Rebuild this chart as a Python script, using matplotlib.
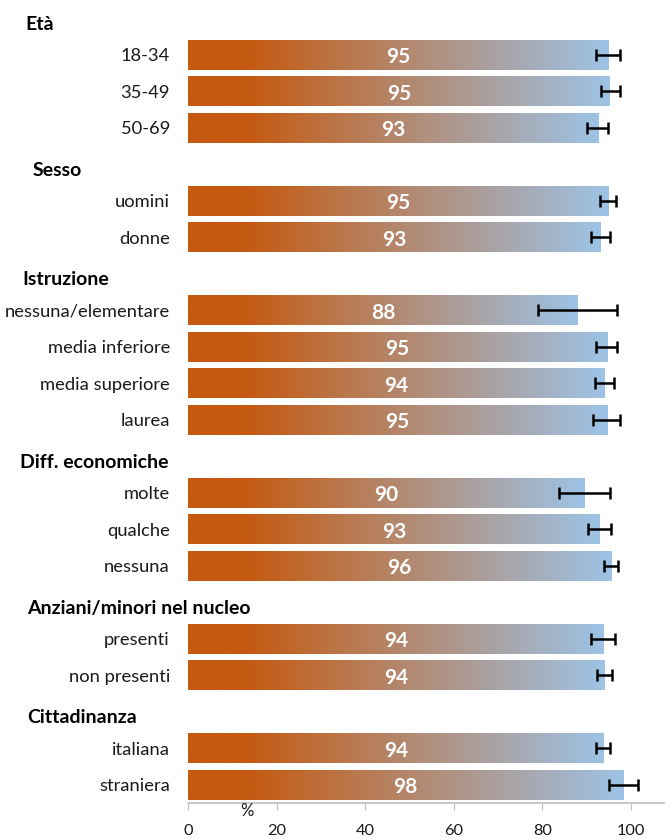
import numpy as np
import matplotlib
matplotlib.use('Agg')
import matplotlib.pyplot as plt
from matplotlib.colors import LinearSegmentedColormap
from matplotlib.transforms import blended_transform_factory

plt.rcParams['font.family'] = ['Lato', 'DejaVu Sans']

# groups and their categories
groups = ['Età', 'Sesso', 'Istruzione', 'Diff. economiche',
          'Anziani/minori nel nucleo', 'Cittadinanza']
categories = [
    ['18-34', '35-49', '50-69'],
    ['uomini', 'donne'],
    ['nessuna/elementare', 'media inferiore', 'media superiore', 'laurea'],
    ['molte', 'qualche', 'nessuna'],
    ['presenti', 'non presenti'],
    ['italiana', 'straniera'],
]
values = [
    [95.0, 95.2, 92.6],
    [95.0, 93.2],
    [88.0, 94.6, 94.1, 94.6],
    [89.5, 93.0, 95.5],
    [93.8, 94.1],
    [93.8, 98.3],
]
err_low = [
    [92.1, 93.2, 90.0],
    [93.1, 91.0],
    [78.9, 92.2, 91.9, 91.4],
    [83.7, 90.4, 93.8],
    [91.0, 92.4],
    [92.1, 95.1],
]
err_high = [
    [97.6, 97.6, 94.8],
    [96.7, 95.3],
    [96.8, 96.8, 96.2, 97.5],
    [95.2, 95.4, 97.1],
    [96.4, 95.7],
    [95.3, 101.5],
]
header_x = [25, 33, 22, 20, 27, 27]   # pixel x of the bold group titles

orange = '#C55A11'
blue = '#9DC3E6'
cmap = LinearSegmentedColormap.from_list('bar', [(0, orange), (0.14, orange), (1, blue)])
grad = np.linspace(0, 1, 256).reshape(1, -1)

W, H = 665, 839
fig = plt.figure(figsize=(W / 100, H / 100), dpi=100)
ax = fig.add_axes([188 / W, 36 / H, 1 - 188 / W, 1 - 36 / H])

bar_h = 0.82
slot = 0
ypos, labels = [], []
for g, name in enumerate(groups):
    ax.text(header_x[g] / W, slot + 0.17, name, transform=blended_transform_factory(fig.transFigure, ax.transData),
            ha='left', va='center', fontsize=14, fontweight='bold', color='black')
    slot += 1
    for c, lab in enumerate(categories[g]):
        v = values[g][c]
        ax.imshow(grad, cmap=cmap, aspect='auto', interpolation='bilinear',
                  extent=[0, v, slot + bar_h / 2, slot - bar_h / 2], zorder=2)
        lo, hi = err_low[g][c], err_high[g][c]
        ax.errorbar(v, slot, xerr=[[v - lo], [hi - v]], fmt='none', ecolor='black',
                    elinewidth=1.8, capsize=4, capthick=1.8, zorder=3)
        ax.text(v / 2, slot + 0.07, f'{v:.0f}', ha='center', va='center', color='white',
                fontsize=15, fontweight='bold', zorder=4)
        ypos.append(slot)
        labels.append(lab)
        slot += 1

ax.set_xlim(0, (W - 188) / 4.43)
ax.set_ylim(slot - 0.5, -0.5)
ax.set_yticks(ypos)
ax.set_yticklabels(labels, fontsize=13.2, color='#1a1a1a')
ax.tick_params(axis='y', length=0, pad=13)
ax.set_xticks([0, 20, 40, 60, 80, 100])
ax.tick_params(axis='x', direction='out', length=5, color='#BFBFBF', labelsize=11.8,
               labelcolor='#1a1a1a', pad=10)
for s in ['top', 'right', 'left']:
    ax.spines[s].set_visible(False)
ax.spines['bottom'].set_color('#BFBFBF')
ax.spines['bottom'].set_linewidth(1.2)
ax.text(13.3, slot - 0.5 + 0.22, '%', ha='center', va='center', fontsize=12, color='#1a1a1a',
        clip_on=False)

fig.savefig('out.png', dpi=100)
